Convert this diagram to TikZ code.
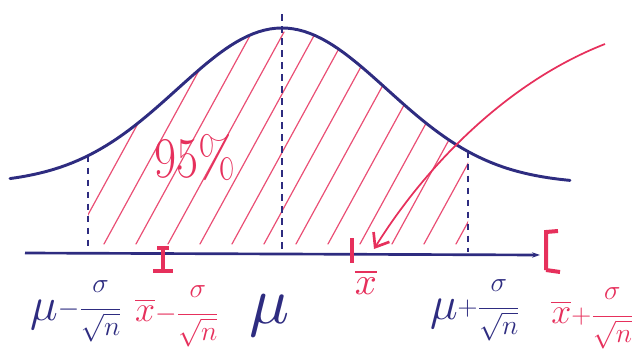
\documentclass[tikz,border=0pt]{standalone}
\usepackage{amsmath}
\usepackage{graphicx}
\usepackage{xcolor}
\usetikzlibrary{arrows.meta}
\definecolor{penblue}{RGB}{46,44,128}
\definecolor{penred}{RGB}{230,48,92}
\newcommand{\bigmu}{\raisebox{-0.35ex}{\scalebox{1.7}{$\mu$}}}
\newcommand{\xbar}{\overline{x}}
\newcommand{\bigxbar}{\scalebox{1.3}{$\xbar$}}
\newcommand{\sdev}{\dfrac{\raisebox{4pt}{$\sigma$}}{\sqrt{n}}}
\medmuskip=2mu\relax

\begin{document}
\begin{tikzpicture}[
        x=0.75pt, y=-0.75pt,
        declare function={bell(\t)=184-156*exp(-((\t-282)/105)*((\t-282)/105)/2);},
        curve/.style={penblue, line width=2.2pt, line cap=round},
        guide/.style={penblue, line width=1pt, dash pattern=on 5pt off 4pt},
        hatch/.style={penred!85, line width=0.9pt, line cap=round},
        redmark/.style={penred, line width=3pt},
        redarrow/.style={penred, line width=1.3pt, -{Straight Barb[length=9pt, width=14pt, line width=2pt]}},
        lbl/.style={inner sep=0pt, font=\huge}
    ]
        \useasboundingbox (0,0) rectangle (632,361);
        % hatched 95% area
        \begin{scope}
            \clip (88,250) -- plot[domain=88:468, samples=40] (\x,{bell(\x)}) -- (468,250) -- cycle;
            \foreach \s in {40,72,...,456}
                \draw[hatch] (\s,244) -- ++(116,-212);
        \end{scope}
        % bell curve and guides
        \draw[curve] plot[domain=10:570, samples=100] (\x,{bell(\x)});
        \coordinate (lefttop) at (88,{bell(88)});
        \coordinate (peak) at (282,14);
        \coordinate (righttop) at (468,{bell(468)});
        \draw[guide] (lefttop) -- (88,246);
        \draw[guide] (peak) -- (282,250);
        \draw[guide] (righttop) -- (468,252);
        % axis
        \draw[penblue, line width=2pt, -{Stealth[length=6pt, width=4pt]}] (25,253) -- (540,255);
        % red marks on the axis
        \draw[redmark] (163,246) -- (163,271);
        \draw[redmark] (157,248) -- (169,248);
        \draw[redmark] (153,271) -- (173,271);
        \draw[redmark] (352,238) -- (352,263);
        \draw[redmark] (546,270) -- (546,232) -- (558,231);
        \draw[redmark] (546,270) -- (560,272);
        % arrow to the sample mean
        \coordinate (tail) at (605,44);
        \coordinate (tip) at (374,249);
        \draw[redarrow] (tail) .. controls (500,85) and (420,175) .. (tip);
        % labels
        \node[penred, inner sep=0pt] (pct) at (195,158) {\scalebox{1}[1.2]{\fontsize{36}{36}\selectfont 95\%}};
        \node[lbl, penblue] (muminus) at (76,311) {\bigmu$-\sdev$};
        \node[lbl, penred] (xminus) at (177,316) {\bigxbar$-\sdev$};
        \node[penblue, inner sep=0pt] (mu) at (270,316) {\scalebox{5}{$\mu$}};
        \node[penred, inner sep=0pt] (xbarlbl) at (366,282) {\scalebox{2.9}{$\xbar$}};
        \node[lbl, penblue] (muplus) at (475,310) {\bigmu$+\sdev$};
        \node[lbl, penred, anchor=west] (xplus) at (551,318) {\bigxbar$+\sdev$};
    \end{tikzpicture}
\end{document}
